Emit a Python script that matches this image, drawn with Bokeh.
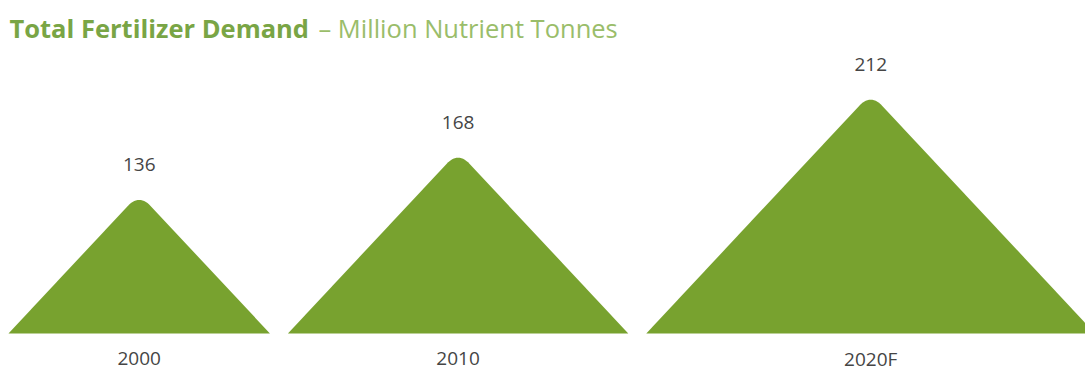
import math
from bokeh.plotting import figure
from bokeh.models import Range1d, ColumnDataSource
from bokeh.core.properties import value
from bokeh.embed import file_html
from bokeh.resources import INLINE

# ---- data ----
categories = ["2000", "2010", "2020F"]
demand = [136, 168, 212]
title_main = "Total Fertilizer Demand"
title_sub = "\u2013 Million Nutrient Tonnes"

# ---- style / layout ----
W, H = 1085, 371
Y0, Y1 = 1.2, 282.5
BASE = 30.0
SY = H / (Y1 - Y0)          # px per data unit in y
SLOPE = 0.935                # half width (px) per height (px)
GAP = 18.0
LEFT = 8.0
ROUND = 17.0                 # apex rounding (px)
GREEN = "#78a22f"
FONT = "Open Sans"

p = figure(width=W, height=H, output_backend="svg", toolbar_location=None,
           x_range=Range1d(0, W), y_range=Range1d(Y0, Y1),
           min_border=0, min_border_left=0, min_border_right=0,
           min_border_top=0, min_border_bottom=0)
p.axis.visible = False
p.grid.visible = False
p.outline_line_color = None
p.background_fill_color = "white"
p.border_fill_color = "white"

xs_list, ys_list, centers = [], [], []
x_cursor = LEFT
for v in demand:
    h_px = (v - BASE) * SY
    hw = SLOPE * h_px
    cx = x_cursor + hw
    centers.append(cx)
    L = (cx - hw, 0.0)
    A = (cx, h_px)
    R = (cx + hw, 0.0)
    edge = math.hypot(hw, h_px)
    t = ROUND / edge
    P1 = (A[0] + (L[0] - A[0]) * t, A[1] + (L[1] - A[1]) * t)
    P2 = (A[0] + (R[0] - A[0]) * t, A[1] + (R[1] - A[1]) * t)
    pts = [L, P1]
    n = 14
    for i in range(1, n):
        s = i / n
        bx = (1 - s) ** 2 * P1[0] + 2 * (1 - s) * s * A[0] + s ** 2 * P2[0]
        by = (1 - s) ** 2 * P1[1] + 2 * (1 - s) * s * A[1] + s ** 2 * P2[1]
        pts.append((bx, by))
    pts += [P2, R]
    xs_list.append([q[0] for q in pts])
    ys_list.append([BASE + q[1] / SY for q in pts])
    x_cursor = cx + hw + GAP

p.patches(xs=xs_list, ys=ys_list, fill_color=GREEN, line_color=None)

lab = ColumnDataSource(dict(
    x=centers,
    y=[v + 29.0 / SY for v in demand],
    t=[str(v) for v in demand],
))
p.text(x="x", y="y", text="t", source=lab, text_align="center",
       text_baseline="middle", text_font=value(FONT), text_font_size="19px",
       text_color="#454545")

cat = ColumnDataSource(dict(
    x=centers,
    y=[BASE - 25.0 / SY] * len(categories),
    t=categories,
))
p.text(x="x", y="y", text="t", source=cat, text_align="center",
       text_baseline="middle", text_font=value(FONT), text_font_size="19px",
       text_color="#454545")

ty = Y0 + (H - 27) / SY
p.text(x=[9], y=[ty], text=[title_main], text_align="left",
       text_baseline="alphabetic", text_font=value(FONT),
       text_font_size="25.5px", text_font_style="bold", text_color="#79a545")
p.text(x=[318], y=[ty], text=[title_sub], text_align="left",
       text_baseline="alphabetic", text_font=value(FONT),
       text_font_size="25.5px", text_color="#9abd6a")

open("out.html", "w").write(file_html(p, INLINE))
